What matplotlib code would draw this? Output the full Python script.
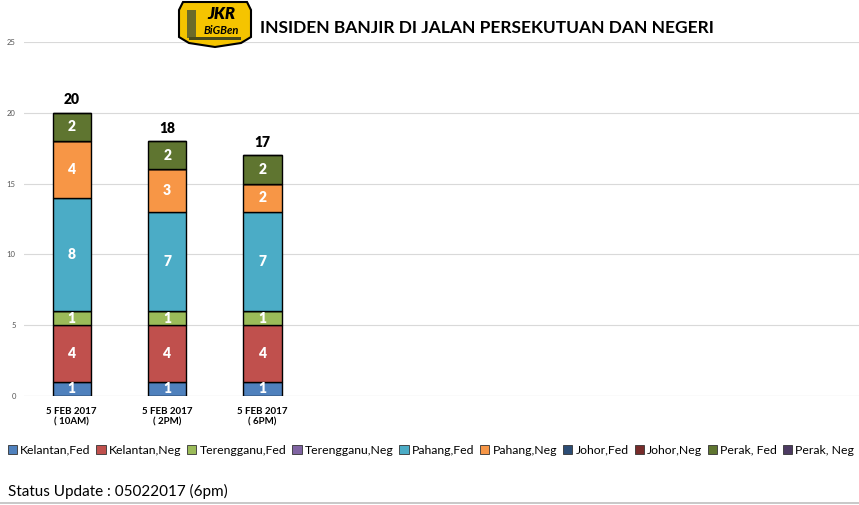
import numpy as np
import matplotlib.pyplot as plt
from matplotlib.patches import Patch, Polygon, Rectangle

plt.rcParams['font.family'] = ['Lato', 'DejaVu Sans']

# ---------------------------------------------------------------------------
# DATA
# ---------------------------------------------------------------------------
categories = ["5 FEB 2017\n( 10AM)", "5 FEB 2017\n( 2PM)", "5 FEB 2017\n( 6PM)"]
series_names = ["Kelantan,Fed", "Kelantan,Neg", "Terengganu,Fed", "Terengganu,Neg",
                "Pahang,Fed", "Pahang,Neg", "Johor,Fed", "Johor,Neg",
                "Perak, Fed", "Perak, Neg"]
kelantan_fed = [1, 1, 1]
kelantan_neg = [4, 4, 4]
terengganu_fed = [1, 1, 1]
terengganu_neg = [0, 0, 0]
pahang_fed = [8, 7, 7]
pahang_neg = [4, 3, 2]
johor_fed = [0, 0, 0]
johor_neg = [0, 0, 0]
perak_fed = [2, 2, 2]
perak_neg = [0, 0, 0]
series_values = [kelantan_fed, kelantan_neg, terengganu_fed, terengganu_neg,
                 pahang_fed, pahang_neg, johor_fed, johor_neg,
                 perak_fed, perak_neg]
colors = ["#4F81BD", "#C0504D", "#9BBB59", "#8064A2", "#4BACC6",
          "#F79646", "#2C4D75", "#772C2A", "#5F7530", "#4D3B62"]

W, H = 859, 505
fig = plt.figure(figsize=(W / 100, H / 100), dpi=100)

# axes placed in pixel terms (left 24, top 42, bottom 396)
ax = fig.add_axes([24 / W, (H - 396) / H, (W - 24) / W, (396 - 42) / H])

x = np.arange(len(categories))
bottom = np.zeros(len(categories))
for name, vals, col in zip(series_names, series_values, colors):
    vals = np.array(vals, dtype=float)
    ax.bar(x, vals, 0.4, bottom=bottom, color=col,
           edgecolor="black", linewidth=1.0, label=name, zorder=3)
    for xi, v, b in zip(x, vals, bottom):
        if v > 0:
            ax.text(xi, b + v / 2, f"{int(v)}", ha="center", va="center",
                    color="white", fontsize=10, fontweight="heavy", zorder=4)
    bottom += vals

for xi, tot in zip(x, bottom):
    ax.text(xi, tot + 0.45, f"{int(tot)}", ha="center", va="bottom",
            fontsize=10, fontweight="heavy", color="black")

ax.set_xlim(-0.5, 8.25)
ax.set_ylim(0, 25)
ax.set_yticks([0, 5, 10, 15, 20, 25])
ax.tick_params(axis="y", labelsize=5.5, labelcolor="#555555", length=0, pad=6)
ax.set_xticks(x)
ax.set_xticklabels(categories, fontsize=7, fontweight="bold")
ax.tick_params(axis="x", length=0, pad=8)
ax.grid(axis="y", color="#D9D9D9", linewidth=0.8, zorder=0)
for s in ax.spines.values():
    s.set_visible(False)
ax.axhline(0, color="#D9D9D9", linewidth=0.8, zorder=1)

# legend row
handles = [Patch(facecolor=c, edgecolor="#333333", linewidth=0.6) for c in colors]
fig.legend(handles, series_names, loc="center", bbox_to_anchor=(431 / W, (H - 450) / H),
           ncol=10, frameon=False, fontsize=8.8, handlelength=0.75, handleheight=0.75,
           handletextpad=0.25, columnspacing=0.5, borderaxespad=0)

# title
fig.text(260 / W, (H - 28) / H, "INSIDEN BANJIR DI JALAN PERSEKUTUAN DAN NEGERI",
         fontsize=12.5, fontweight="bold", ha="left", va="center")

# simple JKR badge
lx0, lx1, ly0, ly1 = 179, 251, 2, 47
badge = [(lx0 + 4, ly0), (lx1 - 4, ly0), (lx1, ly0 + 8), (lx1, ly1 - 10),
         (lx1 - 10, ly1 - 4), ((lx0 + lx1) / 2, ly1), (lx0 + 10, ly1 - 4),
         (lx0, ly1 - 10), (lx0, ly0 + 8)]
badge = [(px / W, 1 - py / H) for px, py in badge]
fig.patches.append(Polygon(badge, closed=True, facecolor="#F5C400", edgecolor="black",
                           linewidth=1.5, transform=fig.transFigure, figure=fig))
fig.patches.append(Rectangle((187 / W, 1 - 38 / H), 9 / W, 28 / H, facecolor="#6B6A2A",
                             edgecolor="none", transform=fig.transFigure, figure=fig))
fig.patches.append(Rectangle((189 / W, 1 - 40 / H), 52 / W, 3 / H, facecolor="#4A4A1A",
                             edgecolor="none", transform=fig.transFigure, figure=fig))
fig.text(221 / W, 1 - 14 / H, "JKR", fontsize=12, fontweight="heavy", style="italic",
         ha="center", va="center")
fig.text(221 / W, 1 - 30 / H, "BiGBen", fontsize=8, fontweight="bold", style="italic",
         ha="center", va="center")

# footer
fig.text(8 / W, (H - 491) / H, "Status Update : 05022017 (6pm)", fontsize=11,
         ha="left", va="center")
fig.add_artist(plt.Line2D([0, 1], [(H - 503) / H] * 2, color="#BFBFBF", linewidth=1.2))

plt.savefig("out.png", dpi=100)
